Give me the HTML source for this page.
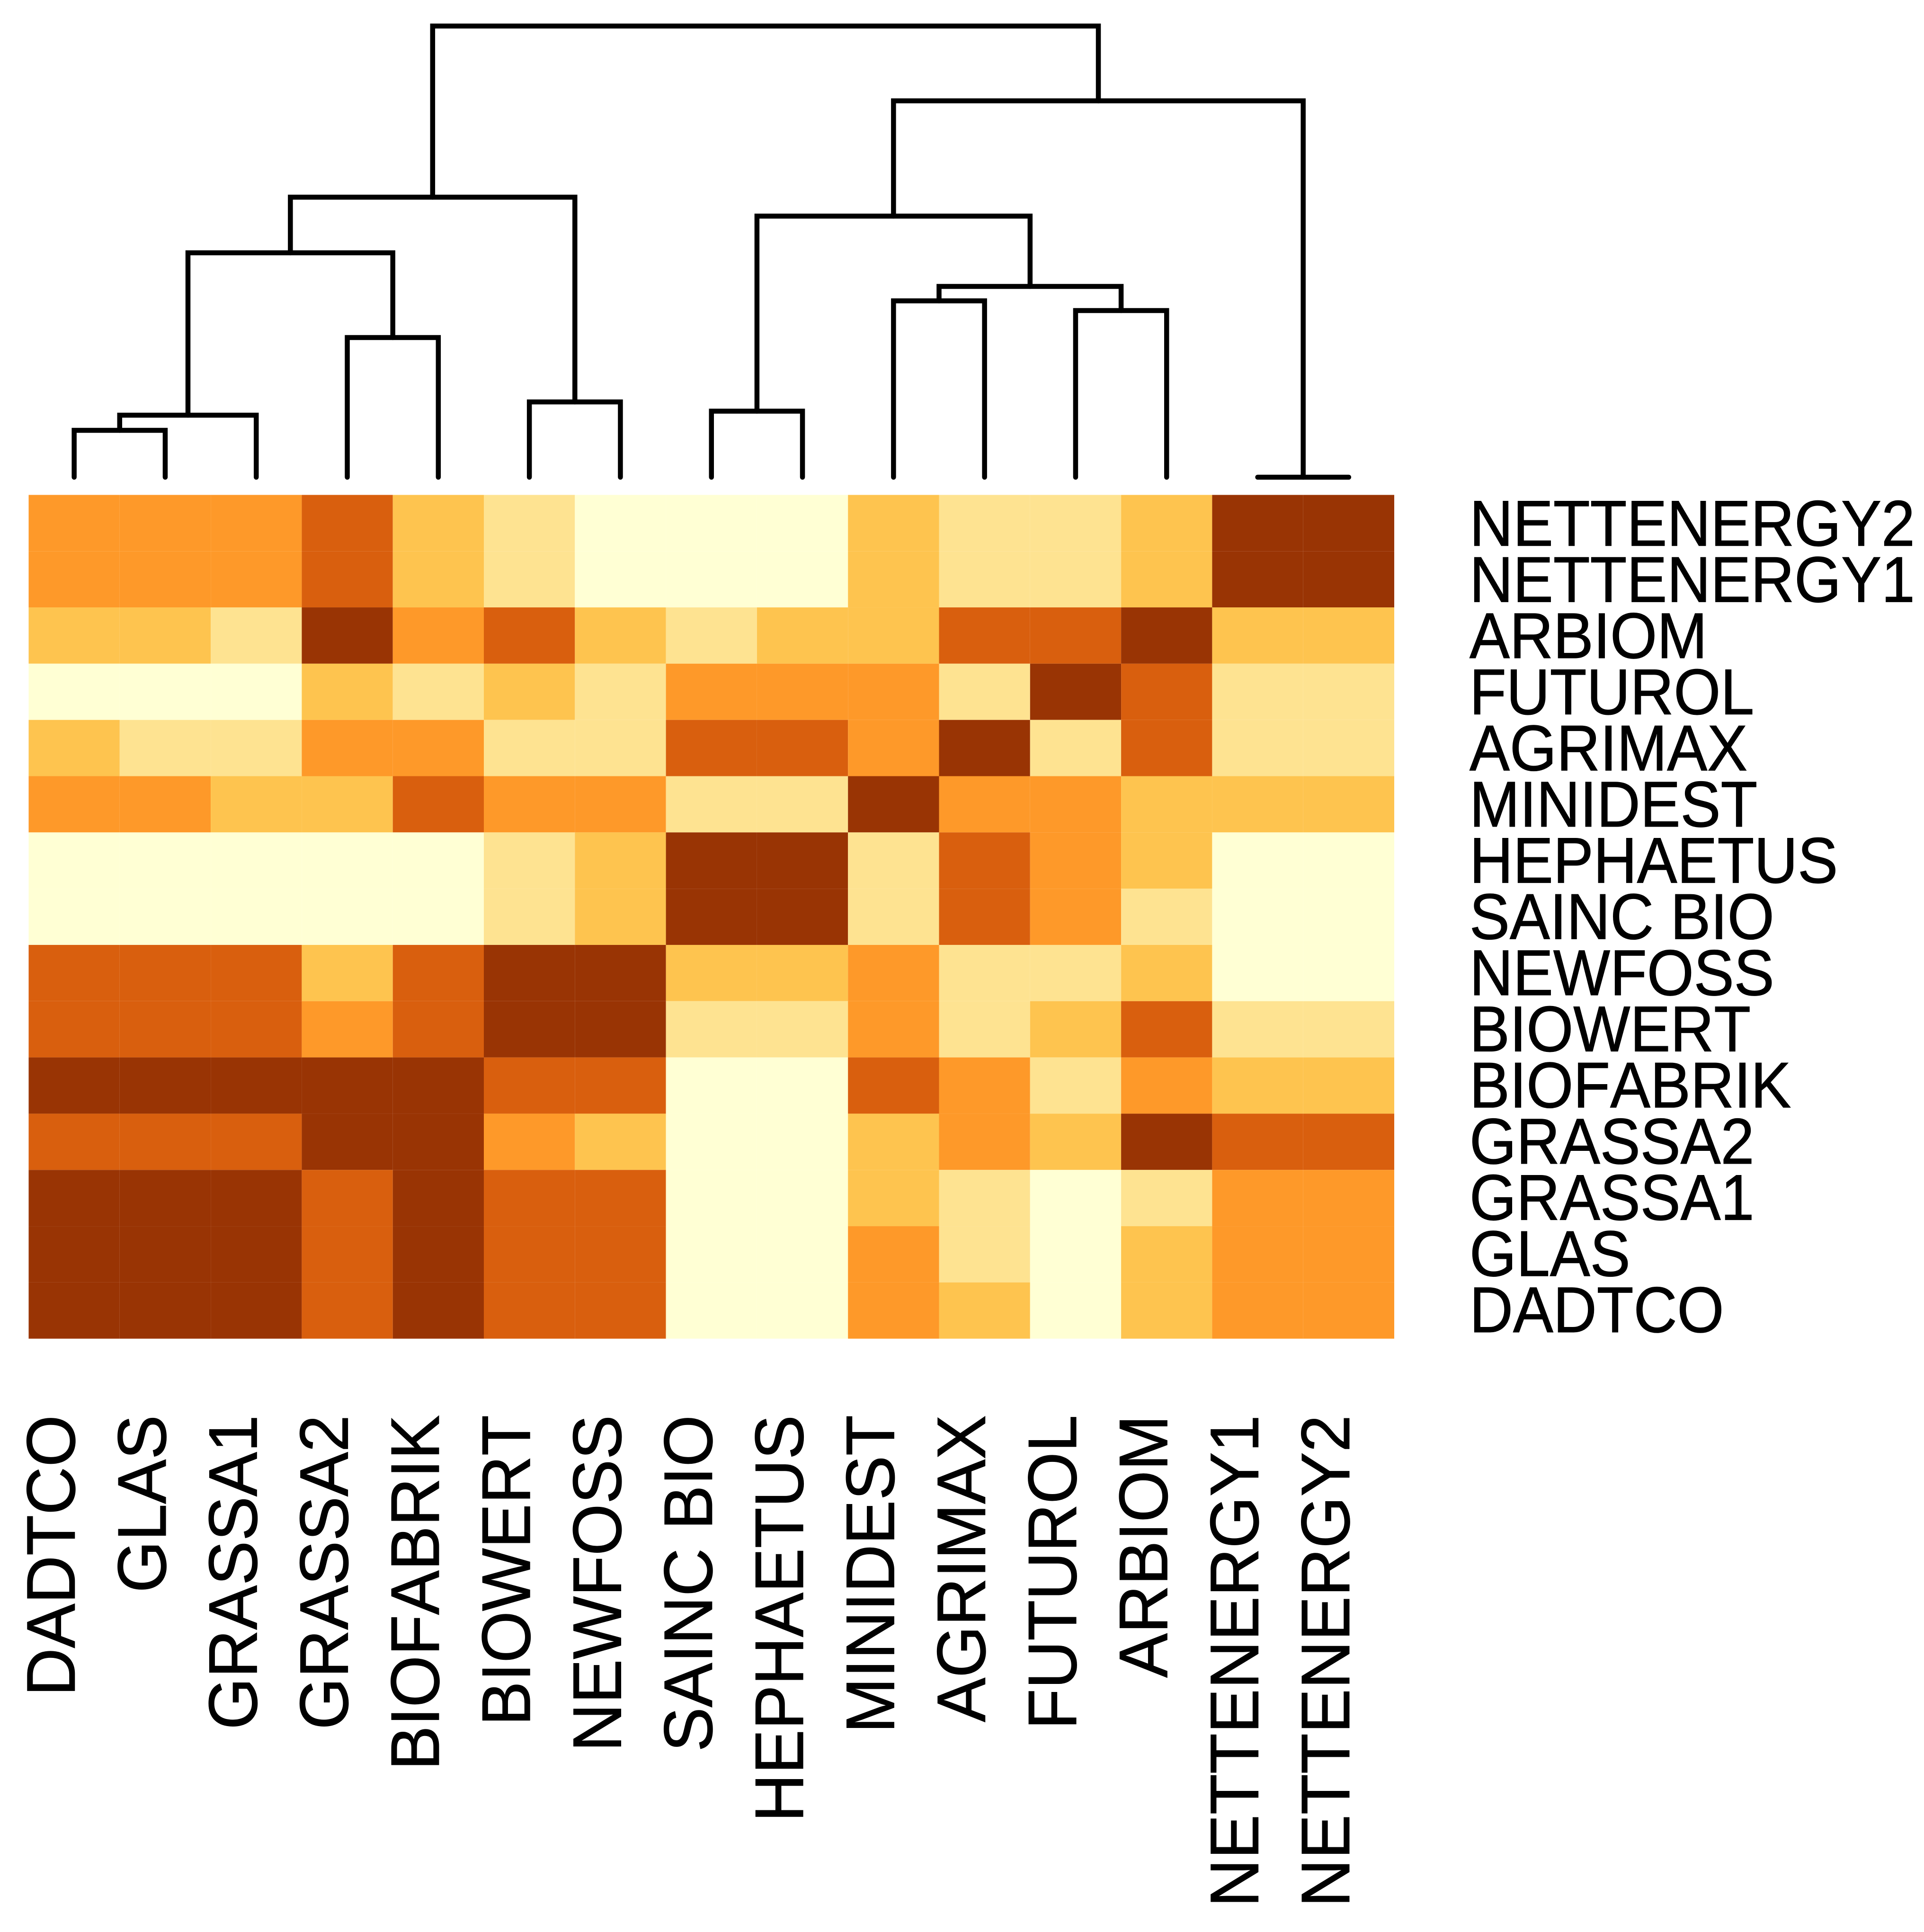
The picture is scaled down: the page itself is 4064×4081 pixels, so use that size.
<!DOCTYPE html>
<html lang="en">
<head>
<meta charset="utf-8">
<title>Clustered heatmap with dendrogram</title>
<style>
html,body{margin:0;padding:0;background:#fff;}
svg{display:block;}
text{font-family:"Liberation Sans",Arial,sans-serif;fill:#000;stroke:#000;stroke-width:1.2px;font-kerning:none;text-rendering:geometricPrecision;}
</style>
</head>
<body>
<svg id="chart" xmlns="http://www.w3.org/2000/svg" width="4064" height="4081" viewBox="0 0 4064 4081">
  <rect x="0" y="0" width="4064" height="4081" fill="#ffffff"></rect>
  <g id="dendrogram"></g>
  <g id="cells"></g>
  <g id="rowLabelsGroup"></g>
  <g id="colLabelsGroup"></g>
</svg>
<script>
var columns = ["DADTCO","GLAS","GRASSA1","GRASSA2","BIOFABRIK","BIOWERT","NEWFOSS","SAINC BIO","HEPHAETUS","MINIDEST","AGRIMAX","FUTUROL","ARBIOM","NETTENERGY1","NETTENERGY2"];
var rows = ["NETTENERGY2","NETTENERGY1","ARBIOM","FUTUROL","AGRIMAX","MINIDEST","HEPHAETUS","SAINC BIO","NEWFOSS","BIOWERT","BIOFABRIK","GRASSA2","GRASSA1","GLAS","DADTCO"];
var palette = ["#FFFFD4","#FEE391","#FEC44F","#FE9929","#D95F0E","#993404"];

var rowNettenergy2 = [3,3,3,4,2,1,0,0,0,2,1,1,2,5,5];
var rowNettenergy1 = [3,3,3,4,2,1,0,0,0,2,1,1,2,5,5];
var rowArbiom      = [2,2,1,5,3,4,2,1,2,2,4,4,5,2,2];
var rowFuturol     = [0,0,0,2,1,2,1,3,3,3,1,5,4,1,1];
var rowAgrimax     = [2,1,1,3,3,1,1,4,4,3,5,1,4,1,1];
var rowMinidest    = [3,3,2,2,4,3,3,1,1,5,3,3,2,2,2];
var rowHephaetus   = [0,0,0,0,0,1,2,5,5,1,4,3,2,0,0];
var rowSaincBio    = [0,0,0,0,0,1,2,5,5,1,4,3,1,0,0];
var rowNewfoss     = [4,4,4,2,4,5,5,2,2,3,1,1,2,0,0];
var rowBiowert     = [4,4,4,3,4,5,5,1,1,3,1,2,4,1,1];
var rowBiofabrik   = [5,5,5,5,5,4,4,0,0,4,3,1,3,2,2];
var rowGrassa2     = [4,4,4,5,5,3,2,0,0,2,3,2,5,4,4];
var rowGrassa1     = [5,5,5,4,5,4,4,0,0,2,1,0,1,3,3];
var rowGlas        = [5,5,5,4,5,4,4,0,0,3,1,0,2,3,3];
var rowDadtco      = [5,5,5,4,5,4,4,0,0,3,2,0,2,3,3];

/* Merge table: negative = leaf -(index+1); positive = earlier merge number (1-based). */
var mergeLeft   = [-1, 1, -4, 2, -6, 4, -8, -10, -12, 8, 7, -14, 11, 6];
var mergeRight  = [-2, -3, -5, 3, -7, 5, -9, -11, -13, 9, 10, -15, 12, 13];
var mergeHeight = [9.9, 13.1, 29.5, 47.4, 15.9, 59.15, 13.95, 37.25, 35.2, 40.3, 55.15, 0, 79.5, 95.3];

var values = [rowNettenergy2,rowNettenergy1,rowArbiom,rowFuturol,rowAgrimax,rowMinidest,rowHephaetus,rowSaincBio,rowNewfoss,rowBiowert,rowBiofabrik,rowGrassa2,rowGrassa1,rowGlas,rowDadtco];

var NS = "http://www.w3.org/2000/svg";
var gridLeft = 60.5, gridTop = 1045.4, gridRight = 2945, gridBottom = 2827.7;
var colW = (gridRight - gridLeft) / columns.length;
var rowH = (gridBottom - gridTop) / rows.length;

function xBand(i){ return gridLeft + colW * i; }
function xCenter(i){ return xBand(i + 0.5); }
function yBand(i){ return gridTop + rowH * i; }
function yHeight(h){ return 1008 - h * 10; }

var cellsG = document.getElementById("cells");
values.forEach(function(row, r){
  row.forEach(function(v, c){
    var el = document.createElementNS(NS, "rect");
    
    
    el.setAttribute("x", xBand(c));
    el.setAttribute("y", yBand(r));
    el.setAttribute("width", colW);
    el.setAttribute("height", rowH);
    el.setAttribute("fill", palette[v]);
    cellsG.appendChild(el);
  });
});

var dendroG = document.getElementById("dendrogram");
var nodeX = [], nodeH = [];
function childPos(ref){
  if (ref < 0) { return {x: xCenter(-ref - 1), y: yHeight(0)}; }
  return {x: nodeX[ref - 1], y: yHeight(nodeH[ref - 1])};
}
mergeHeight.forEach(function(h, m){
  var a = childPos(mergeLeft[m]);
  var b = childPos(mergeRight[m]);
  var y = yHeight(h);
  nodeX[m] = (a.x + b.x) / 2;
  nodeH[m] = h;
  var p = document.createElementNS(NS, "path");
  
  
  p.setAttribute("d", "M" + a.x + " " + a.y + "L" + a.x + " " + y + "L" + b.x + " " + y + "L" + b.x + " " + b.y);
  p.setAttribute("fill", "none");
  p.setAttribute("stroke", "#000");
  p.setAttribute("stroke-width", "10.5");
  p.setAttribute("stroke-linecap", "round");
  p.setAttribute("stroke-linejoin", "miter");
  dendroG.appendChild(p);
});

var rowLabG = document.getElementById("rowLabelsGroup");
rows.forEach(function(name, r){
  var t = document.createElementNS(NS, "text");
  
  
  t.setAttribute("transform", "translate(3104," + (yBand(r) + rowH / 2 + 47.8 - r * 0.16) + ") scale(0.932,1)");
  t.setAttribute("font-size", "136.6");
  t.textContent = name;
  rowLabG.appendChild(t);
});

var colLabG = document.getElementById("colLabelsGroup");
columns.forEach(function(name, c){
  var t = document.createElementNS(NS, "text");
  
  
  t.setAttribute("transform", "translate(" + (xCenter(c) + 1) + ",2989) rotate(-90) scale(0.97,1)");
  t.setAttribute("font-size", "145");
  t.setAttribute("text-anchor", "end");
  t.textContent = name;
  colLabG.appendChild(t);
});
</script>
</body>
</html>
